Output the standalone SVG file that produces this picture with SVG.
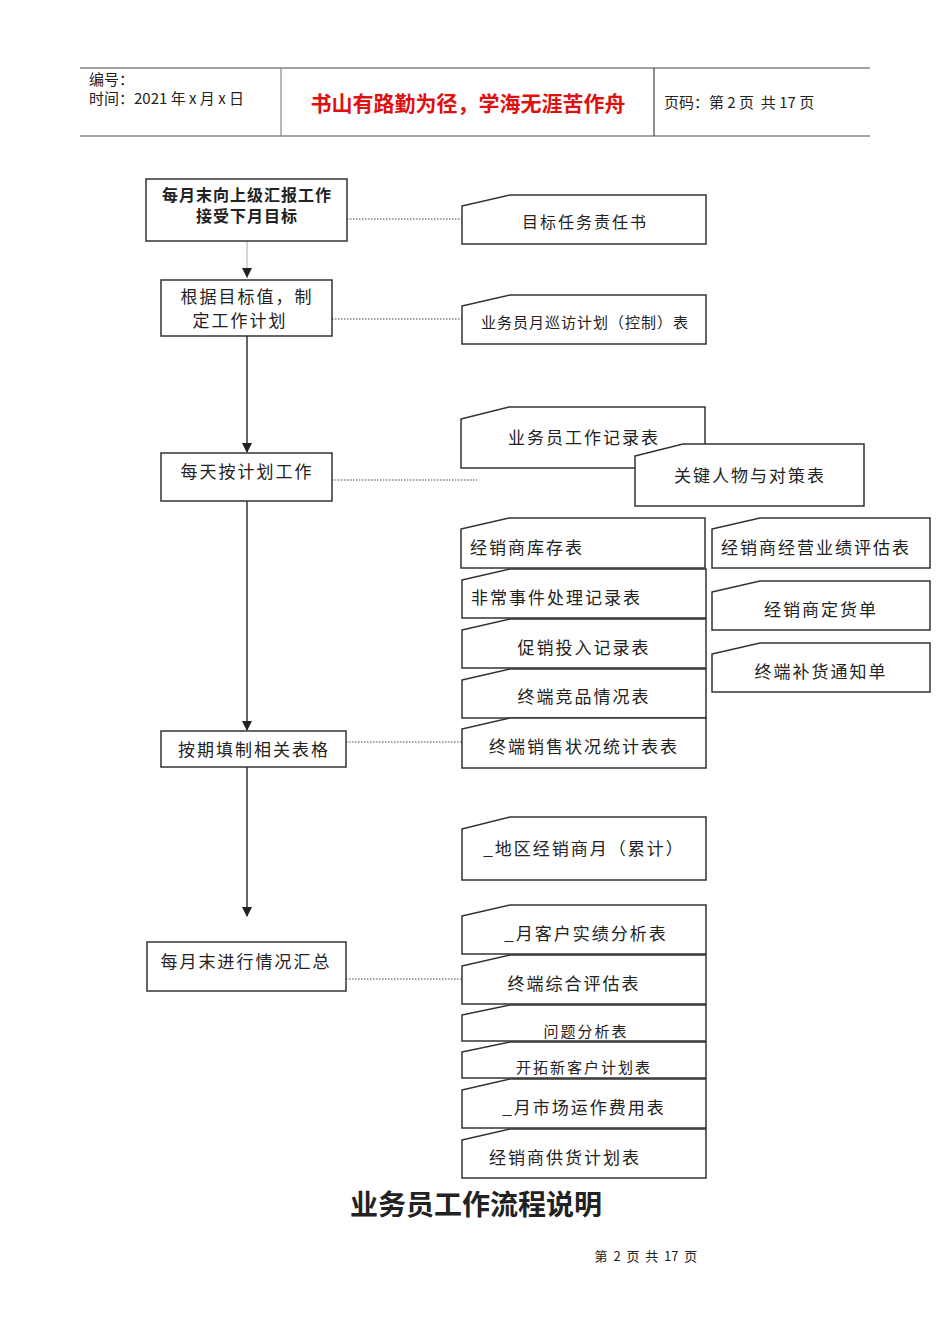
<svg xmlns="http://www.w3.org/2000/svg" width="950" height="1344" viewBox="0 0 950 1344">
<style>
text{font-family:"Noto Sans CJK SC","Liberation Sans",sans-serif;fill:#222}
.card{fill:#fff;stroke:#333;stroke-width:1.5}
.box{fill:#fff;stroke:#333;stroke-width:1.5}
.ct{font-size:16px;text-anchor:middle;letter-spacing:2px}
.bt{font-size:17px;text-anchor:middle;letter-spacing:2px}
.dot{stroke:#444;stroke-width:1;stroke-dasharray:1.5 1.5;fill:none}
.arr{stroke:#333;stroke-width:1.5;fill:none;marker-end:url(#ah)}
</style>
<defs>
<marker id="ah" markerWidth="10" markerHeight="10" refX="9" refY="5" orient="auto" markerUnits="userSpaceOnUse"><path d="M0,0 L10,5 L0,10 Z" fill="#222"/></marker>
<clipPath id="c16"><rect x="460" y="1003" width="250" height="37"/></clipPath>
<clipPath id="c17"><rect x="460" y="1040" width="250" height="37"/></clipPath>
</defs>
<rect width="950" height="1344" fill="#fff"/>
<g id="header">
<line x1="80" y1="68" x2="870" y2="68" stroke="#444" stroke-width="1.2"/>
<line x1="80" y1="136" x2="870" y2="136" stroke="#888" stroke-width="1.5"/>
<line x1="281" y1="68" x2="281" y2="136" stroke="#888" stroke-width="1.2"/>
<line x1="654" y1="68" x2="654" y2="136" stroke="#444" stroke-width="1.2"/>
<text x="89" y="85" font-size="15">编号：</text>
<text x="89" y="104" font-size="15">时间：2021 年 x 月 x 日</text>
<text x="468" y="111" font-size="21" font-weight="bold" text-anchor="middle" style="fill:#e01010">书山有路勤为径，学海无涯苦作舟</text>
<text x="664" y="108" font-size="15">页码：第 2 页&#160;&#160;共 17 页</text>
</g>
<g id="connectors">
<line x1="247" y1="241" x2="247" y2="278" stroke="#aaa" stroke-width="1"/>
<path d="M242,268 L252,268 L247,278 Z" fill="#222"/>
<line class="arr" x1="247" y1="336" x2="247" y2="452"/>
<line class="arr" x1="247" y1="501" x2="247" y2="730"/>
<line class="arr" x1="247" y1="767" x2="247" y2="916"/>
<line class="dot" x1="347" y1="219" x2="462" y2="219"/>
<line class="dot" x1="332" y1="319" x2="462" y2="319"/>
<line class="dot" x1="332" y1="480" x2="477" y2="480"/>
<line class="dot" x1="346" y1="742" x2="462" y2="742"/>
<line class="dot" x1="346" y1="979" x2="462" y2="979"/>
</g>
<g id="nodeA"><rect class="box" x="146" y="179" width="201" height="62"/><text x="247" y="201" font-size="16" font-weight="bold" text-anchor="middle" letter-spacing="1">每月末向上级汇报工作</text><text x="247" y="222" font-size="16" font-weight="bold" text-anchor="middle" letter-spacing="1">接受下月目标</text></g>
<g id="nodeB"><rect class="box" x="161" y="280" width="171" height="56"/><text class="bt" x="247" y="303">根据目标值，制</text><text class="bt" x="240" y="327">定工作计划</text></g>
<g id="nodeC"><rect class="box" x="161" y="453" width="171" height="48"/><text class="bt" x="247" y="478">每天按计划工作</text></g>
<g id="nodeD"><rect class="box" x="161" y="731" width="185" height="36"/><text class="bt" x="254" y="756">按期填制相关表格</text></g>
<g id="nodeE"><rect class="box" x="147" y="942" width="199" height="49"/><text class="bt" x="246" y="968">每月末进行情况汇总</text></g>
<g id="card1"><path class="card" d="M462,206 L510,195 L706,195 L706,244 L462,244 Z"/><text class="ct" x="585" y="228" font-size="15">目标任务责任书</text></g>
<g id="card2"><path class="card" d="M462,306 L510,295 L706,295 L706,344 L462,344 Z"/><text class="ct" x="585" y="328" style="font-size:15px;letter-spacing:1px">业务员月巡访计划（控制）表</text></g>
<g id="card3"><path class="card" d="M461,419 L509,407 L705,407 L705,468 L461,468 Z"/><text class="ct" x="584" y="444" style="font-size:17px">业务员工作记录表</text></g>
<g id="card4"><path class="card" d="M635,456 L683,444 L864,444 L864,506 L635,506 Z"/><text class="ct" x="750" y="482" style="font-size:17px">关键人物与对策表</text></g>
<g id="card5"><path class="card" d="M461,529 L509,518 L705,518 L705,568 L461,568 Z"/><text x="470" y="554" style="font-size:17px;letter-spacing:2px">经销商库存表</text></g>
<g id="card6"><path class="card" d="M712,529 L760,518 L930,518 L930,568 L712,568 Z"/><text x="721" y="554" style="font-size:17px;letter-spacing:2px">经销商经营业绩评估表</text></g>
<g id="card7"><path class="card" d="M462,580 L510,569 L706,569 L706,618 L462,618 Z"/><text x="471" y="604" style="font-size:17px;letter-spacing:2px">非常事件处理记录表</text></g>
<g id="card8"><path class="card" d="M712,592 L760,581 L930,581 L930,630 L712,630 Z"/><text class="ct" x="821" y="616" style="font-size:17px">经销商定货单</text></g>
<g id="card9"><path class="card" d="M462,630 L510,619 L706,619 L706,668 L462,668 Z"/><text class="ct" x="584" y="654" style="font-size:17px">促销投入记录表</text></g>
<g id="card10"><path class="card" d="M712,654 L760,643 L930,643 L930,692 L712,692 Z"/><text class="ct" x="821" y="678" style="font-size:17px">终端补货通知单</text></g>
<g id="card11"><path class="card" d="M462,680 L510,669 L706,669 L706,718 L462,718 Z"/><text class="ct" x="584" y="703" style="font-size:17px">终端竞品情况表</text></g>
<g id="card12"><path class="card" d="M462,729 L510,718 L706,718 L706,768 L462,768 Z"/><text class="ct" x="584" y="753" style="font-size:17px">终端销售状况统计表表</text></g>
<g id="card13"><path class="card" d="M462,829 L510,817 L706,817 L706,880 L462,880 Z"/><text class="ct" x="584" y="855" style="font-size:17px">_地区经销商月（累计）</text></g>
<g id="card14"><path class="card" d="M462,916 L510,905 L706,905 L706,954 L462,954 Z"/><text class="ct" x="586" y="940" style="font-size:17px">_月客户实绩分析表</text></g>
<g id="card15"><path class="card" d="M462,966 L510,955 L706,955 L706,1004 L462,1004 Z"/><text class="ct" x="574" y="990" style="font-size:17px">终端综合评估表</text></g>
<g id="card16"><path class="card" d="M462,1015 L510,1005 L706,1005 L706,1041 L462,1041 Z"/><text class="ct" x="586" y="1037" clip-path="url(#c16)" style="font-size:15px">问题分析表</text></g>
<g id="card17"><path class="card" d="M462,1052 L510,1042 L706,1042 L706,1078 L462,1078 Z"/><text class="ct" x="584" y="1073" clip-path="url(#c17)" style="font-size:15px">开拓新客户计划表</text></g>
<g id="card18"><path class="card" d="M462,1090 L510,1079 L706,1079 L706,1128 L462,1128 Z"/><text class="ct" x="584" y="1114" style="font-size:17px">_月市场运作费用表</text></g>
<g id="card19"><path class="card" d="M462,1140 L510,1129 L706,1129 L706,1178 L462,1178 Z"/><text class="ct" x="565" y="1164" style="font-size:17px">经销商供货计划表</text></g>
<text x="476" y="1215" font-size="28" font-weight="bold" text-anchor="middle" style="font-family:'Noto Sans CJK SC',serif">业务员工作流程说明</text>
<text x="646" y="1261" font-size="13" text-anchor="middle" style="font-family:'Noto Sans CJK SC',serif">第&#160;&#160;2&#160;&#160;页&#160;&#160;共&#160;&#160;17&#160;&#160;页</text>
</svg>
